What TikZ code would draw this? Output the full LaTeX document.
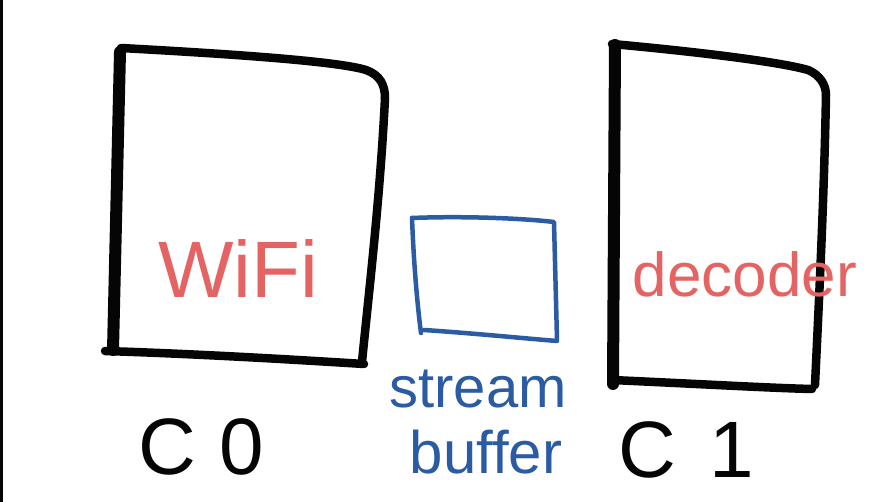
\documentclass[tikz,border=0pt]{standalone}
\usepackage{fontspec}
\setmainfont{Liberation Sans}
\usepackage{tikz}
\usetikzlibrary{positioning}
\definecolor{skred}{HTML}{E46464}
\definecolor{skblue}{HTML}{2A5BA3}
\definecolor{skink}{HTML}{050505}
\tikzset{
  ink/.style      = {draw=skink, line width=8.5pt, line cap=round, line join=round},
  inkfat/.style   = {ink, line width=12pt},
  inkblue/.style  = {draw=skblue, line width=4.5pt, line cap=round, line join=round},
  redlab/.style   = {text=skred, anchor=base, inner sep=0pt},
  bluelab/.style  = {text=skblue, anchor=base, inner sep=0pt},
  blklab/.style   = {text=skink, anchor=base west, inner sep=0pt},
}
\begin{document}
\begin{tikzpicture}[x=1pt,y=-1pt]
  \useasboundingbox[fill=white] (0,0) rectangle (879,502);
  \fill[skink] (0,0) rectangle (3,502);

  % core 0 box
  \draw[inkfat] (120,52) -- (113,350);
  \draw[ink] (121,48) .. controls (250,55) and (340,62) .. (366,70)
             .. controls (380,75) and (385,85) .. (385,98);
  \draw[ink] (385,98) .. controls (380,200) and (368,300) .. (362,362);
  \draw[ink] (105,351) .. controls (200,354) and (300,360) .. (364,364);

  % core 1 box
  \draw[inkfat] (615,45) -- (613,384);
  \draw[ink] (612,44) .. controls (700,52) and (780,62) .. (808,70)
             .. controls (820,75) and (826,85) .. (826,95);
  \draw[ink] (826,95) .. controls (824,200) and (819,300) .. (815,385);
  \draw[ink] (612,380) .. controls (700,384) and (770,388) .. (812,389);

  % stream buffer box
  \draw[inkblue] (412,218) .. controls (460,216) and (520,218) .. (554,222)
                 -- (557,340);
  \draw[inkblue] (412,218) .. controls (414,270) and (418,310) .. (421,333);
  \draw[inkblue] (424,330) .. controls (470,333) and (520,338) .. (557,341);

  \node[redlab, font=\fontsize{80}{80}\selectfont] (wifi) at (238,298) {WiFi};
  \node[redlab, font=\fontsize{62}{62}\selectfont] (dec) at (745,297) {decoder};
  \node[bluelab, font=\fontsize{58}{58}\selectfont] (strm) at (478,408) {stream};
  \node[bluelab, font=\fontsize{60}{60}\selectfont] (buf) at (486,474) {buffer};
  \node[blklab, font=\fontsize{80}{80}\selectfont] (czero) at (138,475) {C\hspace{24pt}0};
  \node[blklab, font=\fontsize{80}{80}\selectfont] (cone) at (618,478) {C\hspace{34pt}1};
\end{tikzpicture}
\end{document}
